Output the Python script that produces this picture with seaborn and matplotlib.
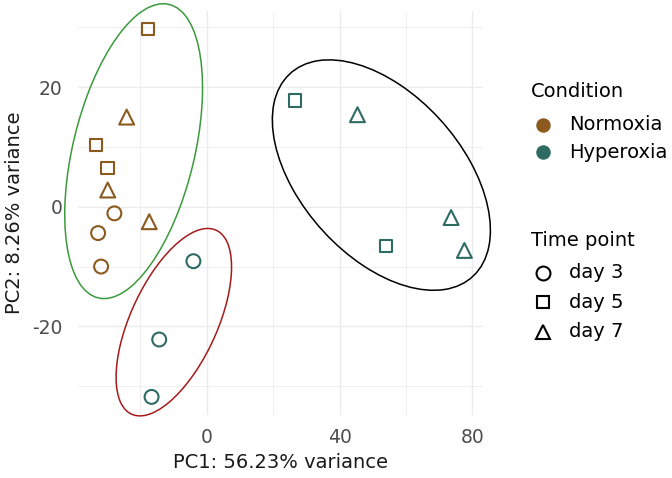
import numpy as np
import pandas as pd
import matplotlib
matplotlib.use("Agg")
import matplotlib.pyplot as plt
import seaborn as sns
from matplotlib.lines import Line2D
from matplotlib.patches import Ellipse
from matplotlib.ticker import MultipleLocator

# ---------------- data ----------------
pc1 = [-17.6, -24.1, -33.3, -29.9, -29.8, -27.8, -32.7, -31.8, -17.3,
       -4.0, -14.3, -16.6, 26.6, 45.4, 54.0, 73.6, 77.6]
pc2 = [29.7, 15.0, 10.3, 6.5, 2.8, -1.1, -4.4, -10.0, -2.5,
       -9.1, -22.2, -31.8, 17.8, 15.4, -6.6, -1.8, -7.3]
condition = ["Normoxia"] * 9 + ["Hyperoxia"] * 8
time_point = ["day 5", "day 7", "day 5", "day 5", "day 7", "day 3", "day 3", "day 3", "day 7",
              "day 3", "day 3", "day 3", "day 5", "day 7", "day 5", "day 7", "day 7"]

conditions = ["Normoxia", "Hyperoxia"]
time_levels = ["day 3", "day 5", "day 7"]
x_label = "PC1: 56.23% variance"
y_label = "PC2: 8.26% variance"
legend1_title = "Condition"
legend2_title = "Time point"

# annotation ellipses (data units): centre x, centre y, semi-axis a, semi-axis b, angle (deg)
ell_x0 = [-22.0, -9.9, 52.6]
ell_y0 = [9.3, -19.3, 5.3]
ell_a = [27.5, 20.9, 34.5]
ell_b = [16.8, 10.55, 16.1]
ell_angle = [56.0, 40.0, -20.3]

# ---------------- styles ----------------
palette = {"Normoxia": "#8C5A1E", "Hyperoxia": "#2E6B62"}
markers = {"day 3": "o", "day 5": "s", "day 7": "^"}
sizes = {"day 3": 100, "day 5": 80, "day 7": 115}
ellipse_colors = ["#3C9A3C", "#A51B1B", "#000000"]

df = pd.DataFrame({"PC1": pc1, "PC2": pc2, "Condition": condition, "Time": time_point})

W, H = 672, 478
fig = plt.figure(figsize=(W / 100, H / 100), dpi=100)
L, R, T, B = 77.7, 482.8, 10.8, 415.3
ax = fig.add_axes([L / W, (H - B) / H, (R - L) / W, (B - T) / H])

sns.scatterplot(data=df, x="PC1", y="PC2", hue="Condition", style="Time", size="Time",
                hue_order=conditions, style_order=time_levels, size_order=time_levels,
                palette=palette, markers=markers, sizes=sizes, legend=False, ax=ax,
                zorder=3)
coll = ax.collections[-1]
fc = coll.get_facecolors()
coll.set_edgecolors(fc)
coll.set_facecolors("none")
coll.set_linewidths(1.5)

ax.margins(0.05)
xl = ax.get_xlim(); yl = ax.get_ylim()
ax.set_xlim(xl); ax.set_ylim(yl)

# grid / axes styling
ax.xaxis.set_major_locator(MultipleLocator(40))
ax.xaxis.set_minor_locator(MultipleLocator(20))
ax.yaxis.set_major_locator(MultipleLocator(20))
ax.yaxis.set_minor_locator(MultipleLocator(10))
ax.set_axisbelow(True)
ax.grid(which="major", color="#EBEBEB", linewidth=1.0)
ax.grid(which="minor", color="#EBEBEB", linewidth=0.55)
for s in ax.spines.values():
    s.set_visible(False)
ax.tick_params(which="both", length=0)
ax.tick_params(which="major", labelsize=13.5, labelcolor="#4D4D4D")
ax.tick_params(axis="y", pad=11)
ax.tick_params(axis="x", pad=9)
ax.set_xticklabels([f"{int(v)}" for v in ax.get_xticks()])
ax.set_yticklabels([f"{int(v)}" for v in ax.get_yticks()])
ax.set_xlim(xl); ax.set_ylim(yl)

ax.set_xlabel(x_label, fontsize=14, va="center", color="#1A1A1A")
ax.set_ylabel(y_label, fontsize=14, va="center", ha="center", color="#1A1A1A")
ax.xaxis.set_label_coords(0.5, (B - 463) / (B - T))
ax.yaxis.set_label_coords((14.5 - L) / (R - L), 0.5)

# ---------------- annotation ellipses ----------------
for x0, y0, a, b, ang, col in zip(ell_x0, ell_y0, ell_a, ell_b, ell_angle, ellipse_colors):
    e = Ellipse((x0, y0), width=2 * a, height=2 * b, angle=ang, fill=False,
                edgecolor=col, linewidth=1.1, clip_on=False, zorder=2)
    ax.add_patch(e)
ax.set_xlim(xl); ax.set_ylim(yl)

# ---------------- legends ----------------
def fx(px): return px / W
def fy(py): return 1 - py / H

fig.text(fx(531), fy(91.7), legend1_title, fontsize=14, va="center", ha="left")
for i, lab in enumerate(conditions):
    yy = 124.5 + 28 * i
    fig.add_artist(Line2D([fx(543)], [fy(yy)], transform=fig.transFigure, ls="",
                          marker="o", markersize=9.4, color=palette[lab]))
    fig.text(fx(569), fy(yy), lab, fontsize=14, va="center", ha="left")

fig.text(fx(531), fy(240), legend2_title, fontsize=14, va="center", ha="left")
for i, lab in enumerate(time_levels):
    yy = 273 + 29.3 * i
    fig.add_artist(Line2D([fx(543)], [fy(yy)], transform=fig.transFigure, ls="",
                          marker=markers[lab], markersize=np.sqrt(sizes[lab]),
                          markerfacecolor="none", markeredgecolor="black",
                          markeredgewidth=1.5))
    fig.text(fx(569), fy(yy), lab, fontsize=14, va="center", ha="left")

fig.savefig("out.png", dpi=100, facecolor="white")
